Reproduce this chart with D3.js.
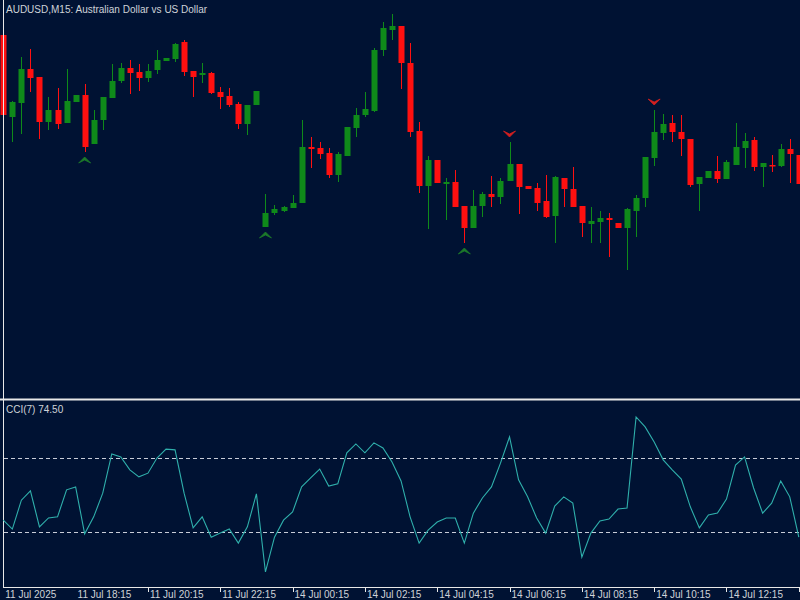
<!DOCTYPE html>
<html>
<head>
<meta charset="utf-8">
<script src="https://cdn.jsdelivr.net/npm/d3@7"></script>
<style>
  html, body { margin: 0; padding: 0; background: #001233; overflow: hidden; }
  svg { display: block; }
  text { font-family: "Liberation Sans", Arial, sans-serif; }
</style>
</head>
<body>
<svg id="chart" width="800" height="600"></svg>
<script>
// M15 candles, AUDUSD
const openP  = [0.65850,0.65686,0.65714,0.65782,0.65766,0.65676,0.65700,0.65674,0.65716,0.65730,
  0.65632,0.65680,0.65724,0.65758,0.65784,0.65776,0.65764,0.65780,0.65798,0.65802,
  0.65836,0.65778,0.65770,0.65774,0.65736,0.65728,0.65712,0.65672,0.65710,0.65466,
  0.65494,0.65498,0.65504,0.65514,0.65626,0.65624,0.65614,0.65570,0.65608,0.65664,
  0.65690,0.65698,0.65820,0.65860,0.65868,0.65794,0.65658,0.65548,0.65600,0.65552,
  0.65556,0.65508,0.65464,0.65508,0.65532,0.65526,0.65558,0.65592,0.65548,0.65544,
  0.65518,0.65488,0.65564,0.65542,0.65508,0.65472,0.65476,0.65484,0.65474,0.65464,
  0.65498,0.65524,0.65604,0.65654,0.65674,0.65656,0.65642,0.65552,0.65564,0.65578,
  0.65562,0.65590,0.65624,0.65640,0.65586,0.65590,0.65588,0.65622,0.65610];
const highP  = [0.65850,0.65718,0.65806,0.65822,0.65766,0.65726,0.65744,0.65782,0.65730,0.65752,
  0.65700,0.65726,0.65792,0.65794,0.65800,0.65792,0.65792,0.65820,0.65804,0.65834,
  0.65840,0.65778,0.65794,0.65776,0.65746,0.65744,0.65716,0.65710,0.65738,0.65532,
  0.65510,0.65508,0.65530,0.65680,0.65646,0.65636,0.65624,0.65616,0.65666,0.65704,
  0.65736,0.65824,0.65876,0.65892,0.65868,0.65834,0.65676,0.65608,0.65600,0.65564,
  0.65580,0.65508,0.65540,0.65536,0.65568,0.65564,0.65636,0.65592,0.65548,0.65554,
  0.65570,0.65568,0.65564,0.65586,0.65508,0.65506,0.65498,0.65494,0.65474,0.65504,
  0.65530,0.65606,0.65700,0.65692,0.65690,0.65690,0.65642,0.65566,0.65578,0.65608,
  0.65600,0.65674,0.65654,0.65646,0.65594,0.65610,0.65632,0.65642,0.65610];
const lowP   = [0.65690,0.65636,0.65652,0.65736,0.65642,0.65660,0.65662,0.65674,0.65716,0.65616,
  0.65632,0.65660,0.65724,0.65754,0.65732,0.65738,0.65756,0.65772,0.65798,0.65796,
  0.65768,0.65726,0.65754,0.65732,0.65702,0.65706,0.65662,0.65650,0.65710,0.65466,
  0.65490,0.65496,0.65504,0.65514,0.65584,0.65602,0.65564,0.65556,0.65608,0.65646,
  0.65686,0.65696,0.65808,0.65840,0.65742,0.65646,0.65534,0.65462,0.65554,0.65480,
  0.65506,0.65434,0.65464,0.65486,0.65506,0.65512,0.65558,0.65492,0.65542,0.65498,
  0.65484,0.65434,0.65506,0.65506,0.65446,0.65434,0.65434,0.65406,0.65464,0.65380,
  0.65446,0.65506,0.65588,0.65640,0.65636,0.65608,0.65546,0.65498,0.65564,0.65554,
  0.65562,0.65590,0.65584,0.65578,0.65546,0.65576,0.65586,0.65554,0.65552];
const closeP = [0.65690,0.65716,0.65782,0.65764,0.65676,0.65700,0.65672,0.65718,0.65730,0.65626,
  0.65680,0.65726,0.65758,0.65784,0.65774,0.65764,0.65778,0.65800,0.65804,0.65832,
  0.65776,0.65766,0.65774,0.65734,0.65726,0.65710,0.65672,0.65710,0.65738,0.65494,
  0.65502,0.65506,0.65514,0.65626,0.65622,0.65612,0.65570,0.65612,0.65666,0.65690,
  0.65702,0.65820,0.65864,0.65868,0.65794,0.65656,0.65548,0.65600,0.65554,0.65556,
  0.65506,0.65464,0.65508,0.65532,0.65526,0.65558,0.65592,0.65546,0.65542,0.65514,
  0.65486,0.65566,0.65542,0.65506,0.65474,0.65478,0.65484,0.65480,0.65464,0.65502,
  0.65524,0.65606,0.65656,0.65672,0.65656,0.65642,0.65550,0.65566,0.65578,0.65562,
  0.65596,0.65626,0.65638,0.65586,0.65594,0.65588,0.65622,0.65612,0.65552];

// CCI(7)
const cci = [-68,-92,-14,11,-86,-62,-59,14,22,-105,
  -59,5,111,103,68,49,59,100,124,122,
  5,-89,-59,-114,-103,-92,-130,-86,3,-208,
  -114,-68,-46,22,46,70,24,30,114,138,
  114,141,127,89,38,-59,-130,-95,-73,-62,
  -62,-130,-49,-8,22,86,157,41,-5,-62,
  -103,-30,-5,-22,-168,-103,-70,-65,-38,-35,
  211,184,143,95,68,43,-32,-89,-54,-49,
  -11,81,103,19,-49,-22,38,-5,-114];
const cciLevels = [100, -100];

// signal arrows (candle index)
const upArrows = [9, 29, 51];
const downArrows = [56, 72];

// time axis
const tickIdx = [0, 8, 16, 24, 32, 40, 48, 56, 64, 72, 80, 88];
const tickLabels = ["11 Jul 2025", "11 Jul 18:15", "11 Jul 20:15", "11 Jul 22:15",
  "14 Jul 00:15", "14 Jul 02:15", "14 Jul 04:15", "14 Jul 06:15", "14 Jul 08:15",
  "14 Jul 10:15", "14 Jul 12:15"];

const titleText = "AUDUSD,M15:  Australian Dollar vs US Dollar";
const cciText = "CCI(7) 74.50";

const bg = "#001233", fg = "#cfd2d8";
const upCol = "#0f8a1a", dnCol = "#ff1010";

const svg = d3.select("#chart");
const n = openP.length;

const x = d3.scaleLinear().domain([0, n - 1]).range([3.3, 798.8]);
const y = d3.scaleLinear().domain([0.65380, 0.65900]).range([270, 10]);
const yc = d3.scaleLinear().domain([-100, 100]).range([532, 458]);

svg.append("rect").attr("width", 800).attr("height", 600).attr("fill", bg);

// price panel
const pg = svg.append("g");
const data = d3.range(n).map(i => ({i, o: openP[i], h: highP[i], l: lowP[i], c: closeP[i]}));

pg.selectAll("line.wick").data(data).join("line")
  .attr("class", "wick")
  .attr("x1", d => Math.round(x(d.i)) + 0.5)
  .attr("x2", d => Math.round(x(d.i)) + 0.5)
  .attr("y1", d => y(d.h))
  .attr("y2", d => y(d.l))
  .attr("stroke", d => d.c >= d.o ? upCol : dnCol)
  .attr("stroke-width", 1);

pg.selectAll("rect.body").data(data).join("rect")
  .attr("class", "body")
  .attr("x", d => Math.round(x(d.i)) - 2.5)
  .attr("width", 6)
  .attr("y", d => y(Math.max(d.o, d.c)))
  .attr("height", d => Math.max(1.5, Math.abs(y(d.o) - y(d.c))))
  .attr("fill", d => d.c >= d.o ? upCol : dnCol);

// arrows
pg.selectAll("path.up").data(upArrows).join("path")
  .attr("class", "up")
  .attr("transform", i => `translate(${x(i)},${y(lowP[i]) + 8})`)
  .attr("d", "M-6,3L0,-3L6,3L0,0Z")
  .attr("fill", "#1c7a2a")
  .attr("stroke", "#1c7a2a")
  .attr("stroke-width", 0.8);

pg.selectAll("path.dn").data(downArrows).join("path")
  .attr("class", "dn")
  .attr("transform", i => `translate(${x(i)},${y(highP[i]) - 8})`)
  .attr("d", "M-6,-3L0,3L6,-3L0,0Z")
  .attr("fill", "#d42020")
  .attr("stroke", "#d42020")
  .attr("stroke-width", 0.8);

pg.append("text")
  .attr("x", 6).attr("y", 13)
  .attr("fill", fg).attr("font-size", 10)
  .text(titleText);

// separators and borders
svg.append("line").attr("x1", 0).attr("x2", 800).attr("y1", 399.5).attr("y2", 399.5)
  .attr("stroke", "#e8e8e8").attr("stroke-width", 2);
svg.append("line").attr("x1", 3.5).attr("x2", 3.5).attr("y1", 0).attr("y2", 587.5)
  .attr("stroke", "#e8e8e8").attr("stroke-width", 1);

// CCI panel
const cg = svg.append("g");
cg.selectAll("line.lvl").data(cciLevels).join("line")
  .attr("class", "lvl")
  .attr("x1", 4).attr("x2", 800)
  .attr("y1", d => Math.round(yc(d)) + 0.5)
  .attr("y2", d => Math.round(yc(d)) + 0.5)
  .attr("stroke", "#c8ccd8")
  .attr("stroke-width", 1)
  .attr("stroke-dasharray", "4,3");

cg.append("path")
  .datum(cci)
  .attr("fill", "none")
  .attr("stroke", "#2fb0ac")
  .attr("stroke-width", 1.1)
  .attr("d", d3.line().x((d, i) => x(i)).y(d => yc(d)));

cg.append("text")
  .attr("x", 6).attr("y", 413)
  .attr("fill", fg).attr("font-size", 10)
  .text(cciText);

// time axis
svg.append("line").attr("x1", 3).attr("x2", 800).attr("y1", 587.5).attr("y2", 587.5)
  .attr("stroke", "#e8e8e8").attr("stroke-width", 1);

const ax = svg.append("g");
ax.selectAll("line").data(tickIdx.slice(2)).join("line")
  .attr("x1", i => Math.round(x(i)) + 0.5)
  .attr("x2", i => Math.round(x(i)) + 0.5)
  .attr("y1", 588).attr("y2", 592)
  .attr("stroke", "#e8e8e8");
ax.selectAll("text").data(tickIdx.slice(0, tickLabels.length)).join("text")
  .attr("x", i => x(i) + 2)
  .attr("y", 598)
  .attr("fill", fg)
  .attr("font-size", 10)
  .text((d, k) => tickLabels[k]);
</script>
</body>
</html>
